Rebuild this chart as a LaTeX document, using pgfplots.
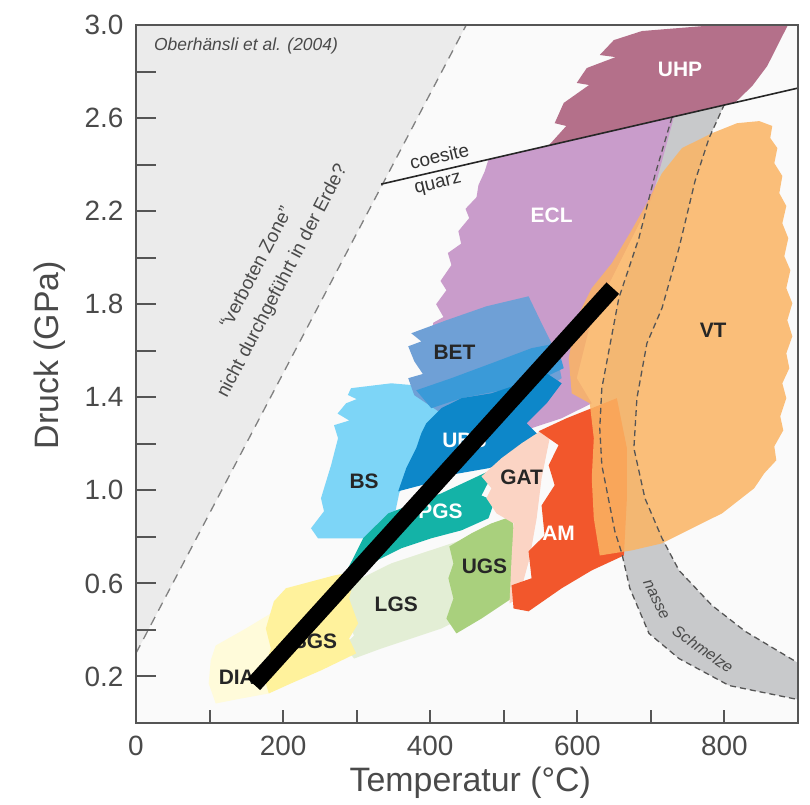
\documentclass[border=0pt]{standalone}
\usepackage{pgfplots}
\pgfplotsset{compat=1.18}
\usepackage{fontspec}
\setmainfont{Liberation Sans}
\definecolor{bgplot}{HTML}{FAFAFA}
\definecolor{zone}{HTML}{EBEBEB}
\definecolor{band}{HTML}{C8C9CB}
\definecolor{uhp}{HTML}{B4708A}
\definecolor{ecl}{HTML}{C99CCB}
\definecolor{vt}{HTML}{FBB463}
\definecolor{bet}{HTML}{6FA0D6}
\definecolor{midblue}{HTML}{3A9AD8}
\definecolor{ubs}{HTML}{0D87C9}
\definecolor{bs}{HTML}{7DD5F7}
\definecolor{pgs}{HTML}{14B3A7}
\definecolor{gat}{HTML}{FBD4C4}
\definecolor{am}{HTML}{F2572C}
\definecolor{ugs}{HTML}{A9D07D}
\definecolor{lgs}{HTML}{E3EED5}
\definecolor{sgs}{HTML}{FFF29C}
\definecolor{dia}{HTML}{FFFBDA}
\definecolor{axgray}{HTML}{555555}
\definecolor{txtgray}{HTML}{4A4A4A}
\definecolor{dashgray}{HTML}{555555}
\tikzset{facies/.style={font=\bfseries\fontsize{21}{21}\selectfont}}
\begin{document}
\begin{tikzpicture}
\begin{axis}[
  scale only axis, width=662bp, height=698bp,
  xmin=0, xmax=900, ymin=0, ymax=3,
  axis background/.style={fill=bgplot},
  axis on top,
  axis line style={draw=axgray, line width=2.5bp},
  tick pos=left, tick align=inside,
  major tick length=20bp,
  major tick style={draw=axgray, line width=2bp},
  xtick style={/pgfplots/major tick length=13bp},
  xtick={0,100,200,300,400,500,600,700,800},
  xticklabels={0,,200,,400,,600,,800},
  ytick={0.2,0.4,0.6,0.8,1.0,1.2,1.4,1.6,1.8,2.0,2.2,2.4,2.6,2.8,3.0},
  yticklabels={0.2,,0.6,,1.0,,1.4,,1.8,,2.2,,2.6,,3.0},
  tick label style={font=\fontsize{28}{28}\selectfont, text=txtgray},
  xticklabel style={yshift=-10bp},
  yticklabel style={xshift=-9bp},
  xlabel={Temperatur (°C)},
  ylabel={Druck (GPa)},
  xlabel style={font=\fontsize{34}{34}\selectfont, text=txtgray, at={(axis description cs:0.505,-0.086)}, anchor=center},
  ylabel style={font=\fontsize{34}{34}\selectfont, text=txtgray, at={(axis description cs:-0.13,0.527)}, anchor=center},
]
% forbidden zone
\addplot[fill=zone, draw=none] coordinates {(0,0.30) (449,3.0) (0,3.0)} -- cycle;
\addplot[draw=gray, line width=1.3bp, dash pattern=on 9bp off 7bp] coordinates {(0,0.30) (449,3.0)};
% wet melt band
\addplot[fill=band, draw=none] coordinates {(728.7,2.604) (705.5,2.355) (683.7,2.084) (656.4,1.826) (633.3,1.439) (630.5,1.267) (633.3,1.108) (651.0,0.824) (660.5,0.729) (671.4,0.579) (697.4,0.385) (738.2,0.277) (806.4,0.161) (905.9,0.097) (905.9,0.247) (828.2,0.394) (783.2,0.505) (738.2,0.656) (715.1,0.794) (691.9,0.966) (676.9,1.181) (681.0,1.396) (694.6,1.632) (715.1,1.783) (738.2,2.041) (760.0,2.329) (779.1,2.514) (799.5,2.656)} -- cycle;
% UHP
\addplot[fill=uhp, draw=none] coordinates {(561,2.482) (814.6,2.667) (837.8,2.738) (858.2,2.824) (871.9,2.910) (885.5,2.995) (769.6,2.995) (687.8,2.974) (649.6,2.935) (630.5,2.871) (652,2.862) (612.8,2.815) (599.2,2.751) (616,2.742) (581.5,2.665) (569.2,2.578) (585,2.566)} -- cycle;
% ECL
\addplot[fill=ecl, draw=none] coordinates {(479.2,2.422) (731.4,2.606) (701.4,2.256) (660.5,1.998) (619.6,1.740) (599.2,1.482) (619.6,1.374) (578.7,1.310) (537.8,1.267) (510.6,1.224) (469.7,1.267) (415.1,1.396) (401.5,1.611) (404,1.72) (418,1.745) (408,1.80) (422,1.86) (414,1.90) (428.8,1.968) (424,2.02) (442,2.06) (438.3,2.114) (453,2.17) (448,2.21) (463,2.26) (465.6,2.312) (474,2.37)} -- cycle;
% BS
\addplot[fill=bs, draw=none] coordinates {(292.4,1.439) (347.0,1.460) (394.7,1.447) (415.1,1.353) (408.3,1.224) (374.2,1.095) (357.8,0.987) (347.0,0.824) (310.2,0.794) (247.4,0.794) (237.9,0.837) (255.6,0.910) (251.5,0.966) (265.2,1.108) (274.7,1.224) (269.2,1.280) (290,1.300) (274,1.330) (285.6,1.374) (300,1.392) (288,1.410)} -- cycle;
% BET
\addplot[fill=bet, draw=none] coordinates {(374.2,1.675) (422.0,1.731) (476.5,1.791) (533.7,1.834) (551.4,1.718) (571.9,1.589) (578.7,1.482) (537.8,1.396) (496.9,1.353) (456.0,1.310) (415.1,1.331) (378.3,1.409) (370.1,1.482) (390,1.500) (378.3,1.555) (370.1,1.619) (388,1.640)} -- cycle;
\addplot[fill=midblue, draw=none] coordinates {(381.0,1.430) (428.8,1.482) (483.3,1.546) (537.8,1.611) (571.9,1.632) (581.5,1.525) (558.3,1.490) (496.9,1.430) (442.4,1.396) (401.5,1.353)} -- cycle;
% UBS
\addplot[fill=ubs, draw=none] coordinates {(394.7,1.288) (415.1,1.353) (442.4,1.396) (483.3,1.417) (524.2,1.460) (558.3,1.503) (578.7,1.460) (558.3,1.374) (531.0,1.288) (547.4,1.237) (524.2,1.138) (479.2,1.095) (424.7,1.065) (387.9,1.022) (356.5,0.996) (367.4,1.095) (381.0,1.181) (387.9,1.245)} -- cycle;
% LGS
\addplot[fill=lgs, draw=none] coordinates {(282.9,0.535) (306.1,0.622) (347.0,0.686) (387.9,0.729) (428.8,0.772) (469.7,0.815) (456.0,0.622) (442.4,0.449) (415.1,0.406) (374.2,0.363) (333.3,0.320) (296.5,0.277) (282.9,0.333) (296.5,0.376) (285.6,0.449)} -- cycle;
% PGS
\addplot[fill=pgs, draw=none] coordinates {(295.2,0.708) (308.8,0.794) (342.9,0.901) (415.1,0.987) (479.2,1.082) (490.1,1.103) (469.7,0.978) (487.4,0.953) (479.2,0.880) (442.4,0.828) (401.5,0.794) (360.6,0.751) (319.7,0.686) (288.3,0.665)} -- cycle;
% DIA
\addplot[fill=dia, draw=none] coordinates {(101.6,0.269) (108.4,0.333) (149.3,0.406) (190.2,0.484) (203.8,0.514) (190.2,0.363) (186.1,0.234) (180.6,0.127) (142.5,0.105) (108.4,0.084) (98.8,0.170)} -- cycle;
% SGS
\addplot[fill=sgs, draw=none] coordinates {(187.5,0.523) (203.8,0.579) (269.2,0.634) (299.2,0.652) (289.7,0.535) (302.0,0.428) (289.7,0.363) (299.2,0.299) (251.5,0.226) (210.6,0.170) (180.6,0.127) (172.5,0.213) (183.4,0.320) (176.5,0.406)} -- cycle;
% UGS
\addplot[fill=ugs, draw=none] coordinates {(426.0,0.759) (456.0,0.815) (483.3,0.858) (510.6,0.888) (517.4,0.772) (510.6,0.643) (510.6,0.535) (469.7,0.449) (435.6,0.385) (422.0,0.449) (431.5,0.535) (424.7,0.622) (431.5,0.686)} -- cycle;
% GAT
\addplot[fill=gat, draw=none] coordinates {(469.7,1.060) (496.9,1.138) (524.2,1.202) (551.4,1.258) (562.4,1.224) (551.4,1.052) (544.7,0.880) (535.1,0.708) (520.1,0.535) (507.8,0.514) (510.6,0.708) (513.3,0.858) (490.1,0.901) (476.5,0.966) (483.3,1.009)} -- cycle;
% AM
\addplot[fill=am, draw=none] coordinates {(547.4,1.254) (585.5,1.310) (619.6,1.353) (653.7,1.396) (667.4,1.181) (667.4,0.966) (663.3,0.720) (619.6,0.656) (578.7,0.579) (533.7,0.480) (513.3,0.492) (510.6,0.592) (537.8,0.622) (533.7,0.738) (555.5,0.806) (551.4,0.935) (569.2,1.022) (561.0,1.108) (574.6,1.194)} -- cycle;
% VT
\addplot[fill=vt, fill opacity=0.85, draw=none] coordinates {(847.3,2.587) (865.0,2.566) (862.3,2.514) (871.9,2.471) (867.8,2.406) (878.7,2.351) (874.6,2.277) (884.1,2.222) (878.7,2.148) (886.8,2.084) (881.4,2.006) (889.6,1.946) (884.1,1.869) (892.3,1.804) (885.5,1.731) (892.3,1.662) (884.1,1.589) (888.2,1.525) (878.7,1.460) (884.1,1.396) (875.9,1.318) (880.0,1.258) (867.8,1.189) (870.5,1.129) (854.1,1.073) (840.5,1.009) (796.8,0.901) (755.9,0.837) (715.1,0.772) (674.2,0.742) (630.5,0.720) (622.4,0.880) (619.6,1.052) (622.4,1.224) (616.9,1.374) (592.4,1.417) (588.3,1.568) (599.2,1.740) (619.6,1.869) (646.9,1.976) (671.4,2.105) (694.6,2.234) (715.1,2.363) (742.3,2.471) (783.2,2.535) (817.3,2.578)} -- cycle;
% band dashed boundaries
\addplot[draw=dashgray, line width=1.3bp, dash pattern=on 6bp off 4bp] coordinates {(728.7,2.604) (705.5,2.355) (683.7,2.084) (656.4,1.826) (633.3,1.439) (630.5,1.267) (633.3,1.108) (651.0,0.824) (660.5,0.729) (671.4,0.579) (697.4,0.385) (738.2,0.277) (806.4,0.161) (905.9,0.097)};
\addplot[draw=dashgray, line width=1.3bp, dash pattern=on 6bp off 4bp] coordinates {(905.9,0.247) (828.2,0.394) (783.2,0.505) (738.2,0.656) (715.1,0.794) (691.9,0.966) (676.9,1.181) (681.0,1.396) (694.6,1.632) (715.1,1.783) (738.2,2.041) (760.0,2.329) (779.1,2.514) (799.5,2.656)};
% coesite - quartz line
\addplot[draw=black!85, line width=1.6bp] coordinates {(333.3,2.316) (905.6,2.733)};
% texts
\node[anchor=west, font=\itshape\fontsize{17.5}{17.5}\selectfont, text=txtgray] at (axis cs:19.8,2.91) {Oberhänsli et al. (2004)};
\node[rotate=62.4, align=center, font=\fontsize{19}{29}\selectfont, text=txtgray] at (axis cs:182,1.927) {“verboten Zone”\\nicht durchgeführt in der Erde?};
\node[rotate=13, font=\fontsize{19}{19}\selectfont, text=black!80] at (axis cs:412.4,2.437) {coesite};
\node[rotate=13, font=\fontsize{19}{19}\selectfont, text=black!80] at (axis cs:411.0,2.312) {quarz};
\node[rotate=-64, font=\itshape\fontsize{16}{16}\selectfont, text=txtgray] at (axis cs:707,0.530) {nasse};
\node[rotate=-35, font=\itshape\fontsize{16}{16}\selectfont, text=txtgray] at (axis cs:771,0.318) {Schmelze};
% facies labels
\node[facies, text=white] at (axis cs:739.6,2.811) {UHP};
\node[facies, text=white] at (axis cs:565.1,2.183) {ECL};
\node[facies, text=black!85] at (axis cs:784.6,1.688) {VT};
\node[facies, text=black!85] at (axis cs:432.9,1.594) {BET};
\node[facies, text=white] at (axis cs:446.5,1.215) {UBS};
\node[facies, text=black!85] at (axis cs:310.2,1.039) {BS};
\node[facies, text=black!85] at (axis cs:524.2,1.056) {GAT};
\node[facies, text=white] at (axis cs:414.0,0.910) {PGS};
\node[facies, text=white] at (axis cs:574.6,0.815) {AM};
\node[facies, text=black!85] at (axis cs:473.8,0.673) {UGS};
\node[facies, text=black!85] at (axis cs:353.8,0.510) {LGS};
\node[facies, text=black!85] at (axis cs:243.4,0.351) {SGS};
\node[facies, text=black!85] at (axis cs:137.0,0.196) {DIA};
% thick black line
\addplot[black, line width=17bp, line cap=butt] coordinates {(160.2,0.166) (648.2,1.869)};
\end{axis}
\pgfresetboundingbox
\path (-136bp,-82bp) rectangle (674bp,723bp);
\end{tikzpicture}
\end{document}
